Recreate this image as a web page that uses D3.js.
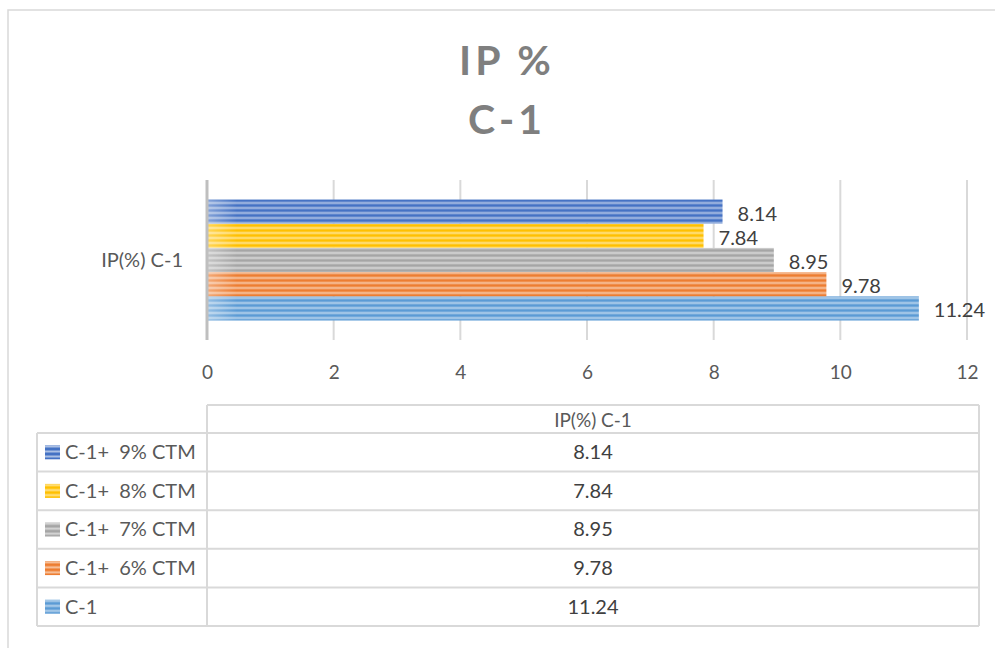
<!DOCTYPE html>
<html>
<head>
<meta charset="utf-8">
<script src="https://cdn.jsdelivr.net/npm/d3@7/dist/d3.min.js"></script>
<style>
  html, body { margin: 0; padding: 0; background: #fff; }
  svg { display: block; font-family: Lato, "Open Sans", sans-serif; }
</style>
</head>
<body>
<svg id="chart" width="995" height="648"></svg>
<script>
// chart data
const categories = ['IP(%) C-1'];
const seriesNames = ['C-1', 'C-1+  6% CTM', 'C-1+  7% CTM', 'C-1+  8% CTM', 'C-1+  9% CTM'];
const seriesValues = [11.24, 9.78, 8.95, 7.84, 8.14];
const seriesColors = ['#5B9BD5', '#ED7D31', '#A5A5A5', '#FFC000', '#4472C4'];
const xTicks = [0, 2, 4, 6, 8, 10, 12];

const svg = d3.select('#chart');

// outer chart border
svg.append('rect')
  .attr('x', 8).attr('y', 10)
  .attr('width', 1000).attr('height', 700)
  .attr('fill', 'none').attr('stroke', '#d9d9d9').attr('stroke-width', 1.5);

// title
const title = svg.append('text')
  .attr('text-anchor', 'middle')
  .attr('fill', '#7f7f7f')
  .attr('font-weight', 'bold')
  .attr('font-size', 41)
  .attr('letter-spacing', 4);
title.append('tspan').attr('x', 507).attr('y', 75).text('IP %');
title.append('tspan').attr('x', 507).attr('y', 134).text('C-1');

// striped fill patterns
const defs = svg.append('defs');
seriesColors.forEach((c, i) => {
  const p = defs.append('pattern')
    .attr('id', 'stripe' + i)
    .attr('patternUnits', 'userSpaceOnUse')
    .attr('width', 8).attr('height', 5);
  p.append('rect').attr('width', 8).attr('height', 5).attr('fill', c);
  p.append('rect').attr('y', 2.5).attr('width', 8).attr('height', 2)
    .attr('fill', d3.interpolateRgb(c, '#ffffff')(0.55));
});
const fade = defs.append('linearGradient').attr('id', 'fade');
fade.append('stop').attr('offset', 0).attr('stop-color', '#fff').attr('stop-opacity', 0.35);
fade.append('stop').attr('offset', 1).attr('stop-color', '#fff').attr('stop-opacity', 0);

// scales
const x = d3.scaleLinear().domain([0, 12]).range([207, 967]);
const y0 = d3.scaleBand().domain(categories).range([180, 340]).paddingInner(0).paddingOuter(0.161);
const order = seriesNames.map((d, i) => i).reverse();
const y1 = d3.scaleBand().domain(order).range([0, y0.bandwidth()]);

// gridlines
svg.append('g')
  .selectAll('line')
  .data(xTicks.slice(1))
  .join('line')
  .attr('x1', d => x(d)).attr('x2', d => x(d))
  .attr('y1', 180).attr('y2', 340)
  .attr('stroke', '#d9d9d9').attr('stroke-width', 2);

// x tick labels via axis
const xAxis = svg.append('g')
  .attr('transform', 'translate(0,365)')
  .call(d3.axisBottom(x).tickValues(xTicks).tickSize(0).tickPadding(0));
xAxis.select('.domain').remove();
xAxis.selectAll('text')
  .attr('font-size', 19).attr('fill', '#595959')
  .attr('font-family', 'Lato, "Open Sans", sans-serif')
  .attr('dy', 13.5);

// bars
const groups = svg.append('g')
  .selectAll('g')
  .data(categories)
  .join('g')
  .attr('transform', d => `translate(0,${y0(d)})`);

const barData = seriesValues.map((v, i) => ({ i, v }));
groups.selectAll('rect.bar')
  .data(barData)
  .join('rect')
  .attr('class', 'bar')
  .attr('x', x(0))
  .attr('y', d => y1(d.i))
  .attr('width', d => x(d.v) - x(0))
  .attr('height', y1.bandwidth())
  .attr('fill', d => `url(#stripe${d.i})`);
groups.selectAll('rect.fade')
  .data(barData)
  .join('rect')
  .attr('class', 'fade')
  .attr('x', x(0))
  .attr('y', d => y1(d.i))
  .attr('width', 30)
  .attr('height', y1.bandwidth())
  .attr('fill', 'url(#fade)');

// data labels
groups.selectAll('text.lbl')
  .data(barData)
  .join('text')
  .attr('class', 'lbl')
  .attr('x', d => x(d.v) + 15)
  .attr('y', d => y1(d.i) + y1.bandwidth() / 2 + 9)
  .attr('font-size', 20).attr('fill', '#404040')
  .text(d => d.v);

// category axis line + label
svg.append('line')
  .attr('x1', x(0)).attr('x2', x(0))
  .attr('y1', 180).attr('y2', 340)
  .attr('stroke', '#bfbfbf').attr('stroke-width', 3);
svg.append('g')
  .selectAll('text')
  .data(categories)
  .join('text')
  .attr('x', 183)
  .attr('y', d => y0(d) + y0.bandwidth() / 2 + 7)
  .attr('text-anchor', 'end')
  .attr('font-size', 20).attr('fill', '#595959')
  .text(d => d);

// data table
const tableTop = 405, headerH = 28, rowH = 38.6;
const colL = 37, colM = 207, colR = 979;
const rows = order;
const tableBottom = tableTop + headerH + rowH * rows.length;
const grid = svg.append('g').attr('stroke', '#d9d9d9').attr('stroke-width', 2).attr('fill', 'none');
grid.append('line').attr('x1', colM).attr('x2', colR).attr('y1', tableTop).attr('y2', tableTop);
grid.append('line').attr('x1', colM).attr('x2', colM).attr('y1', tableTop).attr('y2', tableBottom);
grid.append('line').attr('x1', colR).attr('x2', colR).attr('y1', tableTop).attr('y2', tableBottom);
grid.append('line').attr('x1', colL).attr('x2', colL).attr('y1', tableTop + headerH).attr('y2', tableBottom);
rows.forEach((r, k) => {
  const yy = tableTop + headerH + rowH * k;
  grid.append('line').attr('x1', colL).attr('x2', colR).attr('y1', yy).attr('y2', yy);
});
grid.append('line').attr('x1', colL).attr('x2', colR).attr('y1', tableBottom).attr('y2', tableBottom);

svg.append('text')
  .attr('x', (colM + colR) / 2).attr('y', tableTop + 22)
  .attr('text-anchor', 'middle')
  .attr('font-size', 19).attr('fill', '#595959')
  .text(categories[0]);

const rowG = svg.append('g')
  .selectAll('g')
  .data(rows)
  .join('g')
  .attr('transform', (d, k) => `translate(0,${tableTop + headerH + rowH * k})`);
rowG.append('rect')
  .attr('x', 45).attr('y', rowH / 2 - 7)
  .attr('width', 15).attr('height', 14)
  .attr('fill', d => `url(#stripe${d})`);
rowG.append('text')
  .attr('x', 65).attr('y', rowH / 2 + 7)
  .attr('font-size', 20).attr('fill', '#595959')
  .attr('xml:space', 'preserve')
  .style('white-space', 'pre')
  .text(d => seriesNames[d]);
rowG.append('text')
  .attr('x', (colM + colR) / 2).attr('y', rowH / 2 + 7)
  .attr('text-anchor', 'middle')
  .attr('font-size', 20).attr('fill', '#404040')
  .text(d => seriesValues[d]);
</script>
</body>
</html>
